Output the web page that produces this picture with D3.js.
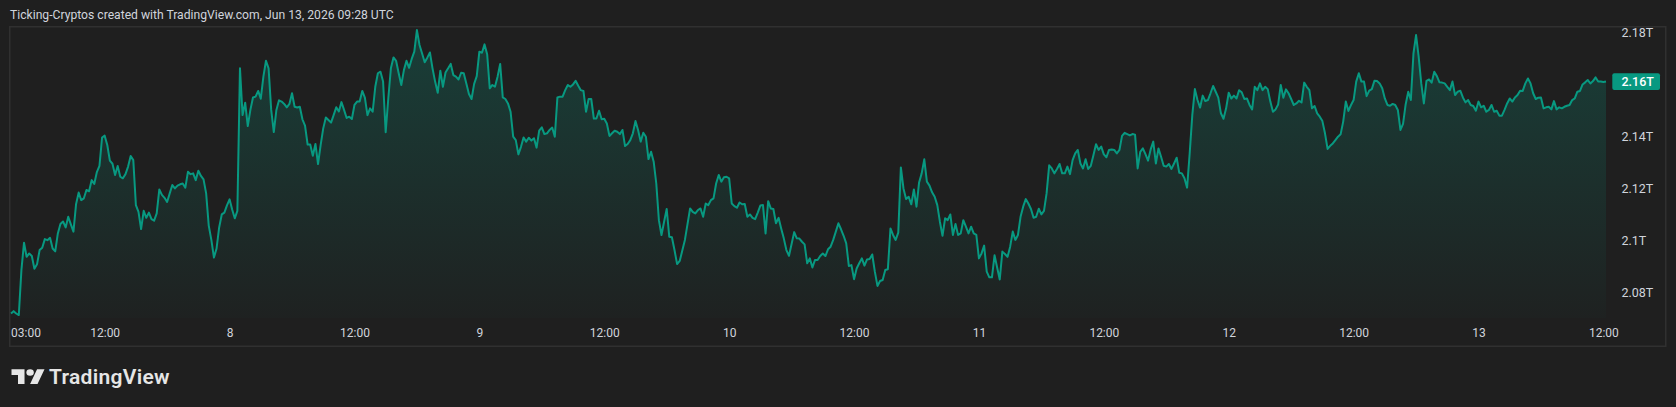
<!DOCTYPE html>
<html>
<head>
<meta charset="utf-8">
<script src="https://cdn.jsdelivr.net/npm/d3@7"></script>
<style>
  html, body { margin: 0; padding: 0; background: #1f1f1f; overflow: hidden; }
  svg { display: block; }
  text { font-family: Roboto, "Noto Sans", sans-serif; }
</style>
</head>
<body>
<div id="chart"></div>
<script>
var w = 1676, h = 407;

// crypto total market cap, 15 min closes in trillions USD, one array per day (Jun 7 starts at 03:00)
var jun7 = [
  2.0720, 2.0729, 2.0720, 2.0714, 2.0887, 2.0992, 2.0938, 2.0951, 2.0941, 2.0892,
  2.0909, 2.0964, 2.0973, 2.1006, 2.1002, 2.1011, 2.0970, 2.0959, 2.1028, 2.1064,
  2.1074, 2.1051, 2.1092, 2.1063, 2.1035, 2.1140, 2.1185, 2.1156, 2.1163, 2.1195,
  2.1190, 2.1233, 2.1218, 2.1264, 2.1288, 2.1397, 2.1404, 2.1368, 2.1308, 2.1296,
  2.1253, 2.1287, 2.1246, 2.1240, 2.1256, 2.1285, 2.1326, 2.1310, 2.1137, 2.1111,
  2.1045, 2.1115, 2.1088, 2.1108, 2.1083, 2.1077, 2.1105, 2.1197, 2.1176, 2.1165,
  2.1149, 2.1182, 2.1214, 2.1201, 2.1212, 2.1217, 2.1220, 2.1204, 2.1265, 2.1256,
  2.1259, 2.1233, 2.1269, 2.1249, 2.1236, 2.1182, 2.1058, 2.1003, 2.0935, 2.0970,
  2.1051, 2.1101, 2.1108, 2.1136
];
var jun8 = [
  2.1159, 2.1120, 2.1086, 2.1115, 2.1663, 2.1483,
  2.1531, 2.1441, 2.1503, 2.1551, 2.1554, 2.1576, 2.1546, 2.1631, 2.1692, 2.1663,
  2.1503, 2.1418, 2.1503, 2.1540, 2.1535, 2.1526, 2.1513, 2.1526, 2.1567, 2.1515,
  2.1512, 2.1515, 2.1467, 2.1443, 2.1370, 2.1370, 2.1327, 2.1372, 2.1295, 2.1368,
  2.1432, 2.1474, 2.1464, 2.1454, 2.1483, 2.1513, 2.1497, 2.1533, 2.1503, 2.1472,
  2.1477, 2.1468, 2.1522, 2.1535, 2.1535, 2.1576, 2.1550, 2.1483, 2.1509, 2.1496,
  2.1592, 2.1644, 2.1650, 2.1612, 2.1417, 2.1547, 2.1663, 2.1705, 2.1692, 2.1644,
  2.1599, 2.1656, 2.1692, 2.1665, 2.1699, 2.1727, 2.1810, 2.1753, 2.1720, 2.1686,
  2.1704, 2.1724, 2.1663, 2.1612, 2.1569, 2.1654, 2.1592, 2.1647, 2.1663, 2.1680,
  2.1637, 2.1631, 2.1620, 2.1646, 2.1644, 2.1605, 2.1564, 2.1545, 2.1603, 2.1633
];
var jun9 = [
  2.1727, 2.1723, 2.1755, 2.1717, 2.1586, 2.1599, 2.1592, 2.1631, 2.1680, 2.1551,
  2.1545, 2.1528, 2.1496, 2.1400, 2.1387, 2.1332, 2.1361, 2.1397, 2.1381, 2.1396,
  2.1385, 2.1394, 2.1358, 2.1423, 2.1436, 2.1410, 2.1413, 2.1426, 2.1435, 2.1400,
  2.1551, 2.1554, 2.1554, 2.1579, 2.1599, 2.1592, 2.1601, 2.1615, 2.1596, 2.1579,
  2.1576, 2.1496, 2.1545, 2.1545, 2.1470, 2.1470, 2.1500, 2.1467, 2.1469, 2.1451,
  2.1403, 2.1413, 2.1423, 2.1419, 2.1410, 2.1426, 2.1364, 2.1372, 2.1387, 2.1413,
  2.1460, 2.1426, 2.1381, 2.1415, 2.1400, 2.1314, 2.1342, 2.1304, 2.1220, 2.1079,
  2.1022, 2.1073, 2.1122, 2.1015, 2.1013, 2.0964, 2.0910, 2.0922, 2.0962, 2.1003,
  2.1064, 2.1124, 2.1111, 2.1105, 2.1118, 2.1124, 2.1092, 2.1143, 2.1137, 2.1156,
  2.1163, 2.1220, 2.1253, 2.1227, 2.1244, 2.1246
];
var jun10 = [
  2.1240, 2.1143, 2.1133, 2.1127, 2.1147, 2.1140, 2.1141, 2.1092, 2.1101, 2.1088,
  2.1083, 2.1108, 2.1135, 2.1137, 2.1028, 2.1152, 2.1124, 2.1122, 2.1067, 2.1088,
  2.1047, 2.1009, 2.0964, 2.0942, 2.0987, 2.1033, 2.1009, 2.1008, 2.0996, 2.0986,
  2.0913, 2.0932, 2.0897, 2.0926, 2.0926, 2.0941, 2.0951, 2.0941, 2.0967, 2.0977,
  2.1003, 2.1035, 2.1067, 2.1044, 2.1019, 2.0990, 2.0903, 2.0906, 2.0852, 2.0893,
  2.0913, 2.0932, 2.0904, 2.0928, 2.0930, 2.0947, 2.0881, 2.0826, 2.0845, 2.0849,
  2.0887, 2.0890, 2.1047, 2.1022, 2.1003, 2.1031, 2.1282, 2.1201, 2.1160, 2.1169,
  2.1140, 2.1197, 2.1131, 2.1224, 2.1259, 2.1313, 2.1227, 2.1212, 2.1186, 2.1169,
  2.1137, 2.1073, 2.1019, 2.1086, 2.1079, 2.1101, 2.1022, 2.1064, 2.1022, 2.1028,
  2.1079, 2.1054, 2.1028, 2.1054, 2.1028, 2.1022
];
var jun11 = [
  2.0932, 2.0951, 2.0981, 2.0881, 2.0859, 2.0859, 2.0944, 2.0897, 2.0851, 2.0958,
  2.0949, 2.0938, 2.0977, 2.1035, 2.1003, 2.1022, 2.1092, 2.1131, 2.1160, 2.1143,
  2.1122, 2.1088, 2.1092, 2.1123, 2.1101, 2.1115, 2.1182, 2.1290, 2.1278, 2.1259,
  2.1276, 2.1295, 2.1259, 2.1259, 2.1285, 2.1256, 2.1310, 2.1336, 2.1349, 2.1297,
  2.1278, 2.1313, 2.1276, 2.1288, 2.1329, 2.1371, 2.1349, 2.1362, 2.1332, 2.1321,
  2.1349, 2.1351, 2.1349, 2.1336, 2.1349, 2.1403, 2.1415, 2.1410, 2.1405, 2.1410,
  2.1408, 2.1278, 2.1342, 2.1355, 2.1333, 2.1308, 2.1351, 2.1381, 2.1297, 2.1355,
  2.1323, 2.1288, 2.1285, 2.1295, 2.1276, 2.1297, 2.1319, 2.1261, 2.1259, 2.1240,
  2.1204, 2.1336, 2.1483, 2.1583, 2.1541, 2.1512, 2.1558, 2.1537, 2.1541, 2.1567,
  2.1595, 2.1573, 2.1550, 2.1490, 2.1469, 2.1509
];
var jun12 = [
  2.1569, 2.1547, 2.1558, 2.1547, 2.1579, 2.1571, 2.1545, 2.1547, 2.1522, 2.1505,
  2.1592, 2.1579, 2.1605, 2.1579, 2.1592, 2.1583, 2.1535, 2.1496, 2.1505, 2.1524,
  2.1599, 2.1550, 2.1582, 2.1567, 2.1545, 2.1522, 2.1528, 2.1538, 2.1532, 2.1608,
  2.1592, 2.1579, 2.1509, 2.1518, 2.1490, 2.1477, 2.1460, 2.1413, 2.1353, 2.1365,
  2.1374, 2.1387, 2.1400, 2.1409, 2.1458, 2.1535, 2.1499, 2.1522, 2.1541, 2.1612,
  2.1644, 2.1612, 2.1612, 2.1556, 2.1577, 2.1583, 2.1615, 2.1614, 2.1605, 2.1586,
  2.1547, 2.1522, 2.1519, 2.1526, 2.1522, 2.1503, 2.1426, 2.1449, 2.1524, 2.1573,
  2.1541, 2.1720, 2.1791, 2.1708, 2.1605, 2.1528, 2.1615, 2.1620, 2.1608, 2.1650,
  2.1633, 2.1609, 2.1608, 2.1605, 2.1592, 2.1579, 2.1612, 2.1560, 2.1573, 2.1577,
  2.1551, 2.1532, 2.1541, 2.1522, 2.1518, 2.1500
];
var jun13 = [
  2.1535, 2.1513, 2.1519, 2.1496, 2.1503, 2.1522, 2.1496, 2.1500, 2.1481, 2.1481,
  2.1503, 2.1528, 2.1547, 2.1535, 2.1551, 2.1560, 2.1577, 2.1576, 2.1605, 2.1624,
  2.1605, 2.1567, 2.1545, 2.1550, 2.1551, 2.1509, 2.1513, 2.1515, 2.1505, 2.1537,
  2.1505, 2.1513, 2.1509, 2.1515, 2.1519, 2.1522, 2.1541, 2.1547, 2.1573, 2.1576,
  2.1601, 2.1609, 2.1618, 2.1605, 2.1614, 2.1628, 2.1612, 2.1612, 2.1610, 2.1612
];

var priceTicks = [2.08, 2.1, 2.12, 2.14, 2.18];
var title = "Ticking-Cryptos created with TradingView.com, Jun 13, 2026 09:28 UTC";

var green = "#089981";
var textCol = "#d1d4dc";
var plotBottom = 318;

var series = jun7.concat(jun8, jun9, jun10, jun11, jun12, jun13);
var start = Date.UTC(2026, 5, 7, 3, 0);
var data = series.map(function(v, i) {
  return { t: new Date(start + i * 15 * 60000), v: v };
});

var x = d3.scaleUtc().domain(d3.extent(data, d => d.t)).range([11, 1606]);
var y = d3.scaleLinear().domain([2.08, 2.18]).range([292.7, 32.7]);

var svg = d3.select("#chart").append("svg")
  .attr("width", w).attr("height", h);

svg.append("rect").attr("width", w).attr("height", h).attr("fill", "#1f1f1f");

svg.append("text").attr("x", 10).attr("y", 19)
  .attr("fill", textCol).attr("font-size", 12.15).text(title);

// pane frame
svg.append("rect").attr("x", 9.75).attr("y", 26.75)
  .attr("width", 1656).attr("height", 319.5)
  .attr("fill", "none").attr("stroke", "#303030").attr("stroke-width", 1.5);

var grad = svg.append("defs").append("linearGradient")
  .attr("id", "fill").attr("gradientUnits", "userSpaceOnUse")
  .attr("x1", 0).attr("x2", 0)
  .attr("y1", y(d3.max(series))).attr("y2", plotBottom);
grad.append("stop").attr("offset", 0).attr("stop-color", green).attr("stop-opacity", 0.26);
grad.append("stop").attr("offset", 1).attr("stop-color", green).attr("stop-opacity", 0.02);

svg.append("path").datum(data)
  .attr("fill", "url(#fill)")
  .attr("d", d3.area().x(d => x(d.t)).y0(plotBottom).y1(d => y(d.v)));

svg.append("path").datum(data)
  .attr("fill", "none").attr("stroke", green).attr("stroke-width", 2)
  .attr("stroke-linejoin", "round")
  .attr("d", d3.line().x(d => x(d.t)).y(d => y(d.v)));

// price scale
var yAxis = svg.append("g").attr("transform", "translate(1621.5,0)")
  .call(d3.axisRight(y).tickValues(priceTicks).tickSize(0).tickPadding(0)
    .tickFormat(v => (+v.toFixed(2)) + "T"));
yAxis.select(".domain").remove();
yAxis.selectAll("text").attr("fill", textCol).attr("font-size", 12.5)
  .attr("font-family", "Roboto, sans-serif");

// time scale
var halfDays = d3.utcHour.every(12).range(x.domain()[0], x.domain()[1]);
var xAxis = svg.append("g").attr("transform", "translate(0,328.8)")
  .call(d3.axisBottom(x).tickValues(halfDays).tickSize(0).tickPadding(0)
    .tickFormat(d => d.getUTCHours() === 0 ? d.getUTCDate() : "12:00"));
xAxis.select(".domain").remove();
xAxis.selectAll("text").attr("fill", textCol).attr("font-size", 12)
  .attr("font-family", "Roboto, sans-serif");

svg.append("text").attr("x", x(data[0].t)).attr("y", 337.3)
  .attr("fill", textCol).attr("font-size", 12).text(d3.utcFormat("%H:%M")(data[0].t));

// last value tag
var last = series[series.length - 1];
svg.append("rect").attr("x", 1612.3).attr("y", y(last) - 8.3)
  .attr("width", 47.7).attr("height", 16.7).attr("rx", 2).attr("fill", green);
svg.append("text").attr("x", 1621.5).attr("y", y(last)).attr("dy", "0.35em")
  .attr("fill", "#ffffff").attr("font-size", 12.5).attr("font-weight", 500)
  .text((+last.toFixed(2)) + "T");

// TradingView logo
var logo = svg.append("g").attr("transform", "translate(11.5,366) scale(0.93,0.82)")
  .attr("fill", "#e6e6e6");
logo.append("path").attr("d", "M14 22H7V11H0V4h14v18zM28 22h-8l7.5-18h8L28 22z");
logo.append("circle").attr("cx", 20).attr("cy", 8).attr("r", 4);
svg.append("text").attr("x", 49).attr("y", 384)
  .attr("fill", "#e6e6e6").attr("font-size", 21).attr("font-weight", 600)
  .attr("letter-spacing", 0.3)
  .attr("font-family", "Inter, Roboto, sans-serif").text("TradingView");
</script>
</body>
</html>
